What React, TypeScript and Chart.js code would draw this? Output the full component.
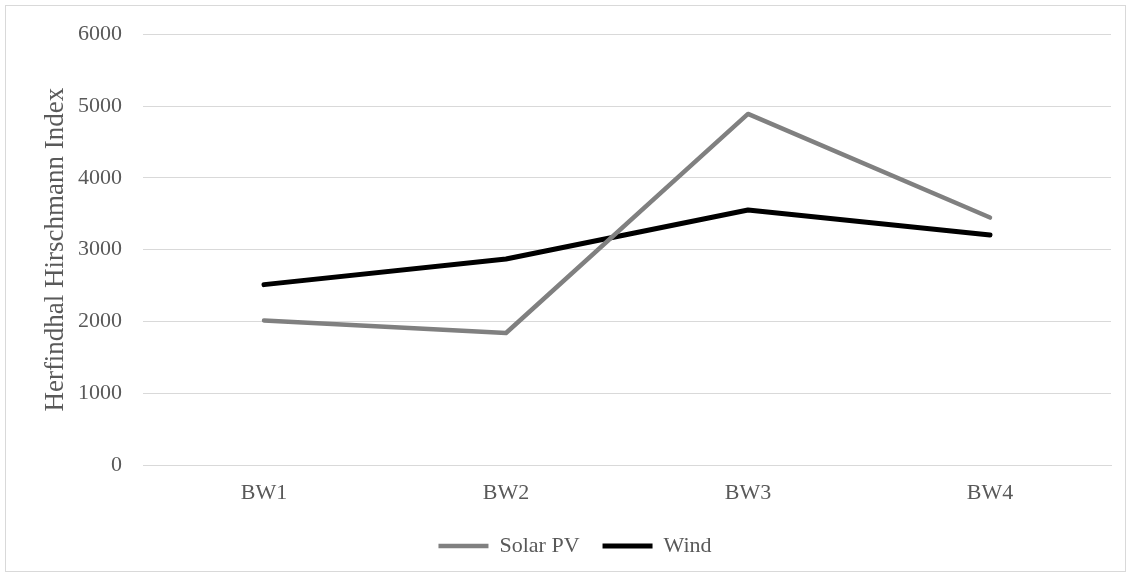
import React, { useEffect, useRef } from "react";
import { Chart, registerables } from "chart.js";

Chart.register(...registerables);

const categories = ["BW1", "BW2", "BW3", "BW4"];
const solarPV = [2015, 1840, 4890, 3447];
const wind = [2513, 2870, 3553, 3205];
const yTicks = [0, 1000, 2000, 3000, 4000, 5000, 6000];

const FONT = "'Liberation Serif', 'Times New Roman', serif";
const TEXT = "#595959";

export default function App() {
  const ref = useRef<HTMLCanvasElement | null>(null);
  useEffect(() => {
    if (!ref.current) return;
    const chart = new Chart(ref.current, {
      type: "line",
      data: {
        labels: categories,
        datasets: [
          {
            label: "Solar PV",
            data: solarPV,
            borderColor: "#808080",
            backgroundColor: "#808080",
            borderWidth: 4.5,
            borderCapStyle: "round",
            borderJoinStyle: "round",
            pointRadius: 0,
            tension: 0,
          },
          {
            label: "Wind",
            data: wind,
            borderColor: "#000000",
            backgroundColor: "#000000",
            borderWidth: 5,
            borderCapStyle: "round",
            borderJoinStyle: "round",
            pointRadius: 0,
            tension: 0,
          },
        ],
      },
      options: {
        animation: false,
        responsive: false,
        maintainAspectRatio: false,
        layout: { padding: { left: 39, right: 20, top: 29, bottom: 10 } },
        plugins: {
          tooltip: { enabled: false },
          legend: {
            position: "bottom",
            labels: {
              usePointStyle: true,
              pointStyle: "line",
              pointStyleWidth: 50,
              boxHeight: 5,
              color: TEXT,
              font: { family: FONT, size: 22 },
              padding: 23,
            },
          },
        },
        scales: {
          x: {
            offset: true,
            grid: { display: false, drawTicks: false },
            border: { display: true, color: "#d9d9d9", width: 1 },
            ticks: {
              color: TEXT,
              font: { family: FONT, size: 22 },
              padding: 15,
            },
            afterFit: (s: any) => {
              s.height = s.height - 9.5;
            },
          },
          y: {
            min: 0,
            max: 6000,
            afterBuildTicks: (s: any) => {
              s.ticks = yTicks.map((v) => ({ value: v }));
            },
            afterFit: (s: any) => {
              s.width = 104;
            },
            grid: { color: "#d9d9d9", lineWidth: 1, drawTicks: false },
            border: { display: false },
            ticks: {
              color: TEXT,
              font: { family: FONT, size: 22 },
              padding: 21,
              callback: (v: any) => String(v),
            },
            title: {
              display: true,
              text: "Herfindhal Hirschmann Index",
              color: TEXT,
              font: { family: FONT, size: 27 },
              padding: { top: 1, bottom: 7 },
            },
          },
        },
      },
    });
    return () => chart.destroy();
  }, []);
  return (
    <div style={{ position: "fixed", left: 0, top: 0, width: 1131, height: 577, background: "#fff" }}>
      <div
        style={{
          position: "absolute",
          left: 5,
          top: 5,
          width: 1119,
          height: 565,
          border: "1px solid #d9d9d9",
        }}
      />
      <canvas ref={ref} width={1131} height={577} style={{ position: "absolute", left: 0, top: 0 }} />
    </div>
  );
}
